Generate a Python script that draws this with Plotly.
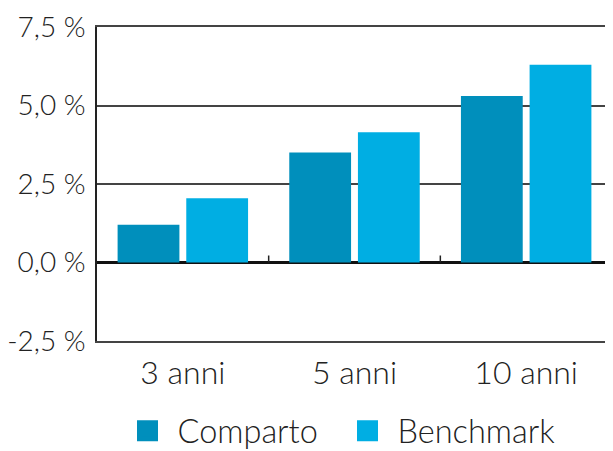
import plotly.graph_objects as go

categories = ["3 anni", "5 anni", "10 anni"]
comparto = [1.2, 3.5, 5.3]
benchmark = [2.05, 4.15, 6.3]
ytick_vals = [-2.5, 0.0, 2.5, 5.0, 7.5]
ytick_text = ["-2,5 %", "0,0 %", "2,5 %", "5,0 %", "7,5 %"]

FONT = "Lato"
TXT = "#222222"
C1 = "#008FBC"
C2 = "#00AEE3"

fig = go.Figure()
fig.add_trace(go.Bar(name="Comparto", x=categories, y=comparto, showlegend=False,
                     marker=dict(color=C1, line=dict(width=0))))
fig.add_trace(go.Bar(name="Benchmark", x=categories, y=benchmark, showlegend=False,
                     marker=dict(color=C2, line=dict(width=0))))
# legend entries with larger square swatches
for name, col in [("Comparto", C1), ("Benchmark", C2)]:
    fig.add_trace(go.Scatter(name=name, x=[None], y=[None], mode="markers",
                             marker=dict(symbol="square", size=16, color=col,
                                         line=dict(color=col, width=5))))

# small ticks on the zero line at category boundaries
for i in range(len(categories)):
    fig.add_shape(type="line", xref="x", yref="y", x0=i + 0.5, x1=i + 0.5,
                  ysizemode="pixel", yanchor=0, y0=0, y1=7,
                  line=dict(color="#222222", width=1.5), layer="above")

# page has an 8px body margin, so the figure is sized to fit the window
fig.update_layout(
    width=605, height=443,
    margin=dict(l=89, r=1, t=19, b=110, autoexpand=False),
    paper_bgcolor="white", plot_bgcolor="white",
    barmode="group", bargap=0.2, bargroupgap=0.1,
    font=dict(family=FONT, color=TXT, size=28, weight=300),
    showlegend=True,
    legend=dict(orientation="h", x=0.467, xanchor="center", y=-0.287, yanchor="middle",
                font=dict(size=32.5, color=TXT, weight=300), itemwidth=50,
                entrywidth=155, entrywidthmode="pixels",
                traceorder="normal"),
    xaxis=dict(showgrid=False, showline=True, linecolor="#444444", linewidth=2,
               mirror=True, ticks="", automargin=False,
               tickfont=dict(size=32, color=TXT, weight=300),
               ticklabelstandoff=3, range=[-0.5, 2.5]),
    yaxis=dict(range=[-2.5, 7.5], tickvals=ytick_vals, ticktext=ytick_text,
               showgrid=True, gridcolor="#444444", gridwidth=2, automargin=False,
               zeroline=True, zerolinecolor="#111111", zerolinewidth=2.5,
               showline=True, linecolor="#222222", linewidth=1.5,
               ticks="", tickfont=dict(size=28, color=TXT, weight=300),
               ticklabelstandoff=4),
)

fig.write_html("out.html")
